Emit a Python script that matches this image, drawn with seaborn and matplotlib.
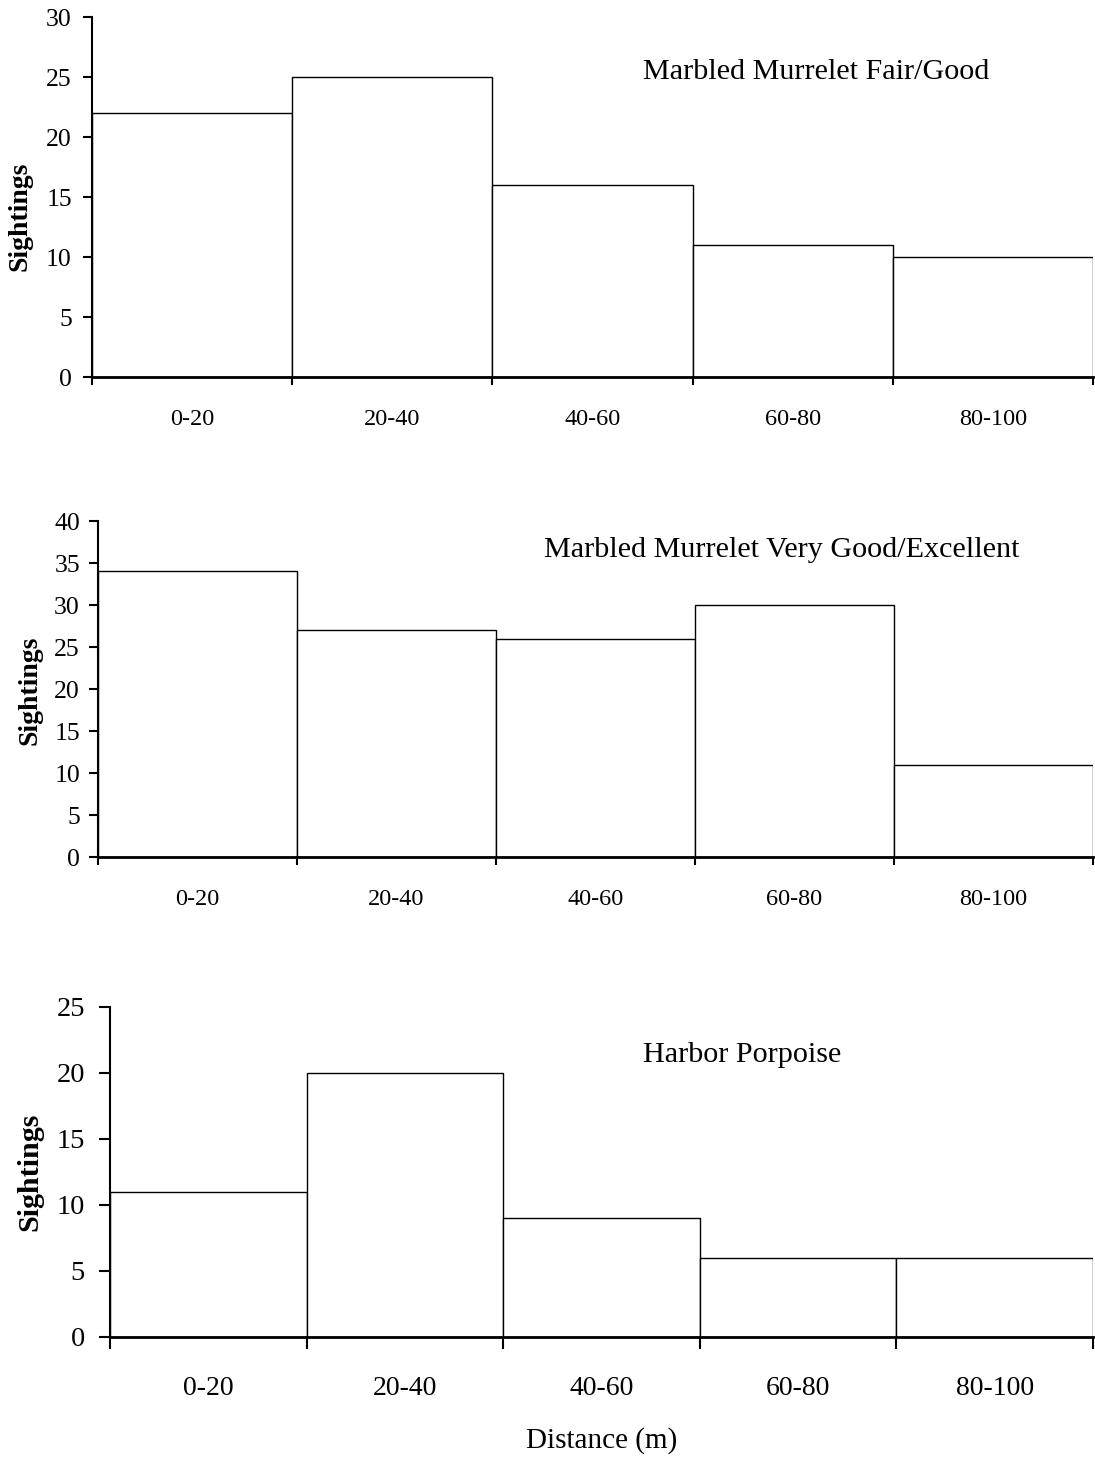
import matplotlib
matplotlib.use("Agg")
import matplotlib.pyplot as plt
import seaborn as sns
import pandas as pd
import numpy as np

categories = ["0-20", "20-40", "40-60", "60-80", "80-100"]
fair_good = [22, 25, 16, 11, 10]
very_good_excellent = [34, 27, 26, 30, 11]
harbor_porpoise = [11, 20, 9, 6, 6]

titles = ["Marbled Murrelet Fair/Good",
          "Marbled Murrelet Very Good/Excellent",
          "Harbor Porpoise"]
ymaxes = [30, 40, 25]

sns.set_theme(style="ticks")
plt.rcParams['font.family'] = ['Liberation Serif', 'DejaVu Serif']
plt.rcParams.update({
    "text.color": "black",
    "axes.labelcolor": "black",
    "axes.edgecolor": "black",
    "xtick.color": "black",
    "ytick.color": "black",
})

fig = plt.figure(figsize=(10.95, 14.58), dpi=100)
W, H = 1095.0, 1458.0
# (left, right, top, bottom) in pixels
boxes = [(92, 1093, 17, 377), (98, 1093, 521, 857), (110, 1093, 1007, 1337)]
ytick_fs = [18.5, 18.5, 20.5]
xtick_fs = [17.5, 17.5, 20]
ytick_pad = [8, 6.5, 10]
ytick_len = [6.5, 6.5, 8]
xtick_len = [6, 6, 8.5]
xlab_pad = [23, 23, 28]
title_fs = 21.7
title_pos = [(0.723, 0.848), (0.687, 0.914), (0.643, 0.855)]
ylab_fs = [20, 20, 21.6]
ylab_x_px = [33, 42, 43]
ylab_y = [0.447, 0.497, 0.50]

series = [fair_good, very_good_excellent, harbor_porpoise]
for i, vals in enumerate(series):
    l, r, t, b = boxes[i]
    ax = fig.add_axes([l / W, 1 - b / H, (r - l) / W, (b - t) / H])
    df = pd.DataFrame({"Distance": categories, "Sightings": vals})
    sns.barplot(data=df, x="Distance", y="Sightings", ax=ax, width=1.0,
                color="white", edgecolor="black", linewidth=1.0,
                saturation=1)
    ax.set_xlim(-0.5, len(categories) - 0.5)
    ax.set_ylim(0, ymaxes[i])
    ax.set_yticks(np.arange(0, ymaxes[i] + 1, 5))
    ax.set_xticks(np.arange(-0.5, len(categories), 1.0))
    ax.set_xticklabels([])
    ax.set_xticks(np.arange(len(categories)), minor=True)
    ax.set_xticklabels(categories, minor=True)
    ax.tick_params(axis="x", which="minor", length=0, pad=xlab_pad[i],
                   labelsize=xtick_fs[i], colors="black")
    ax.tick_params(axis="x", which="major", length=xtick_len[i], width=1.5,
                   direction="out", colors="black")
    ax.tick_params(axis="y", length=ytick_len[i], width=1.5, direction="out",
                   labelsize=ytick_fs[i], pad=ytick_pad[i], colors="black")
    for s in ["top", "right"]:
        ax.spines[s].set_visible(False)
    ax.spines["left"].set_linewidth(1.5)
    ax.spines["bottom"].set_linewidth(2.0)
    ax.spines["left"].set_color("black")
    ax.spines["bottom"].set_color("black")
    ax.set_xlabel("")
    ax.set_ylabel("Sightings", fontsize=ylab_fs[i], fontweight="bold",
                  color="black")
    ax.yaxis.set_label_coords((ylab_x_px[i] - l) / (r - l), ylab_y[i])
    ax.text(title_pos[i][0], title_pos[i][1], titles[i],
            transform=ax.transAxes, ha="center", va="center",
            fontsize=title_fs, color="black")
    ax.set_facecolor("white")

fig.text(602 / W, 1 - 1441 / H, "Distance (m)", ha="center", va="center",
         fontsize=21, color="black")

fig.savefig("out.png", dpi=100, facecolor="white")
